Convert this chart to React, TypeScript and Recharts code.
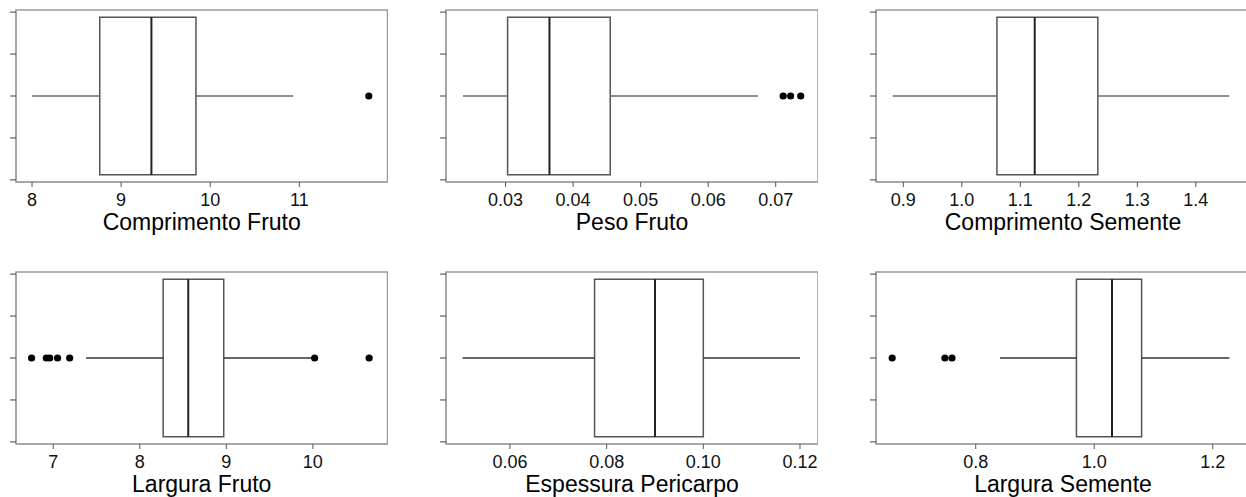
import React from 'react'
import { ScatterChart, Scatter, XAxis, YAxis, ReferenceArea, ReferenceLine } from 'recharts'

const titles = [
  'Comprimento Fruto',
  'Peso Fruto',
  'Comprimento Semente',
  'Largura Fruto',
  'Espessura Pericarpo',
  'Largura Semente'
]

const q1 = [8.76, 0.0303, 1.06, 8.27, 0.0775, 0.97]
const medians = [9.34, 0.0365, 1.1246, 8.56, 0.09, 1.03]
const q3 = [9.84, 0.0455, 1.2325, 8.97, 0.1, 1.08]
const whiskerLow = [8.0, 0.0237, 0.882, 7.38, 0.0502, 0.841]
const whiskerHigh = [10.93, 0.0674, 1.457, 9.99, 0.12, 1.228]

const outliersFruto = [11.78]
const outliersPeso = [0.0711, 0.0722, 0.0737]
const outliersSemente = [] as number[]
const outliersLargura = [6.75, 6.92, 6.96, 7.05, 7.19, 10.02, 10.65]
const outliersPericarpo = [] as number[]
const outliersLarguraSemente = [0.659, 0.748, 0.76]
const outliers = [
  outliersFruto,
  outliersPeso,
  outliersSemente,
  outliersLargura,
  outliersPericarpo,
  outliersLarguraSemente
]

const xTicks = [
  [8, 9, 10, 11],
  [0.03, 0.04, 0.05, 0.06, 0.07],
  [0.9, 1.0, 1.1, 1.2, 1.3, 1.4],
  [7, 8, 9, 10],
  [0.06, 0.08, 0.1, 0.12],
  [0.8, 1.0, 1.2]
]
const xTickLabels = [
  ['8', '9', '10', '11'],
  ['0.03', '0.04', '0.05', '0.06', '0.07'],
  ['0.9', '1.0', '1.1', '1.2', '1.3', '1.4'],
  ['7', '8', '9', '10'],
  ['0.06', '0.08', '0.10', '0.12'],
  ['0.8', '1.0', '1.2']
]

// layout: plot area position and x extent of each panel
const panels = [
  { left: 16, top: 9.5, width: 371.5, domain: [7.82, 11.99] },
  { left: 446, top: 9.5, width: 372, domain: [0.02118, 0.07626] },
  { left: 876, top: 9.5, width: 374, domain: [0.8533, 1.4926] },
  { left: 16, top: 272, width: 371.5, domain: [6.57, 10.862] },
  { left: 446, top: 272, width: 372, domain: [0.04676, 0.12373] },
  { left: 876, top: 272, width: 374, domain: [0.6317, 1.2629] }
]

const PLOT_H = 172
const AXIS_W = 6
const AXIS_H = 56
const PAD = 2
const Y_DOMAIN = [-0.05, 4.05]
const Y_TICKS = [0, 1, 2, 3, 4]
const MID = 2
const BOX_LO = 0.12
const BOX_HI = 3.88

const frameColor = '#9a9a9a'
const font = 'Arial, "Liberation Sans", sans-serif'

const Panel = ({ i }: { i: number }) => {
  const p = panels[i]
  const pts = outliers[i].map((v) => ({ x: v, y: MID }))
  const labels = xTickLabels[i]
  const whiskerColor = i < 3 ? '#6a6a6a' : '#333'
  return (
    <div style={{ position: 'absolute', left: p.left - AXIS_W, top: p.top - PAD }}>
      <ScatterChart
        width={p.width + AXIS_W}
        height={PLOT_H + AXIS_H + PAD}
        margin={{ top: PAD, right: 0, bottom: 0, left: 0 }}
      >
        <XAxis
          type="number"
          dataKey="x"
          domain={p.domain}
          allowDataOverflow
          ticks={xTicks[i]}
          height={AXIS_H}
          tickSize={5}
          stroke={frameColor}
          tickLine={{ stroke: '#555' }}
          tick={(props: any) => (
            <text
              key={props.index}
              x={props.x}
              y={props.y + 17}
              textAnchor="middle"
              fontSize={18}
              fontFamily={font}
              fill="#111"
            >
              {labels[props.index]}
            </text>
          )}
          label={(props: any) => {
            const vb = props.viewBox
            return (
              <text
                x={vb.x + vb.width / 2}
                y={vb.y + 48}
                textAnchor="middle"
                fontSize={23}
                fontFamily={font}
                fill="#000"
              >
                {titles[i]}
              </text>
            )
          }}
        />
        <YAxis
          type="number"
          dataKey="y"
          domain={Y_DOMAIN}
          allowDataOverflow
          ticks={Y_TICKS}
          width={AXIS_W}
          tickSize={6}
          stroke={frameColor}
          tickLine={{ stroke: '#444' }}
          tickFormatter={() => ''}
        />
        <ReferenceArea
          x1={p.domain[0]}
          x2={p.domain[1]}
          y1={Y_DOMAIN[0]}
          y2={Y_DOMAIN[1]}
          fill="none"
          stroke={frameColor}
          strokeWidth={1.5}
          ifOverflow="visible"
        />
        <ReferenceLine
          segment={[{ x: whiskerLow[i], y: MID }, { x: q1[i], y: MID }]}
          stroke={whiskerColor}
          strokeWidth={1.5}
          ifOverflow="visible"
        />
        <ReferenceLine
          segment={[{ x: q3[i], y: MID }, { x: whiskerHigh[i], y: MID }]}
          stroke={whiskerColor}
          strokeWidth={1.5}
          ifOverflow="visible"
        />
        <ReferenceArea
          x1={q1[i]}
          x2={q3[i]}
          y1={BOX_LO}
          y2={BOX_HI}
          fill="#fff"
          fillOpacity={1}
          stroke="#555"
          strokeWidth={1.5}
          ifOverflow="visible"
        />
        <ReferenceLine
          segment={[{ x: medians[i], y: BOX_LO }, { x: medians[i], y: BOX_HI }]}
          stroke="#222"
          strokeWidth={2}
          ifOverflow="visible"
        />
        {pts.length > 0 && (
          <Scatter
            data={pts}
            isAnimationActive={false}
            shape={(s: any) => <circle cx={s.cx} cy={s.cy} r={3.6} fill="#000" />}
          />
        )}
      </ScatterChart>
    </div>
  )
}

export default function App() {
  return (
    <div
      style={{
        position: 'absolute',
        left: 0,
        top: 0,
        width: 1246,
        height: 497,
        overflow: 'hidden',
        background: '#fff',
        fontFamily: font
      }}
    >
      {titles.map((t, i) => (
        <Panel key={t} i={i} />
      ))}
    </div>
  )
}
